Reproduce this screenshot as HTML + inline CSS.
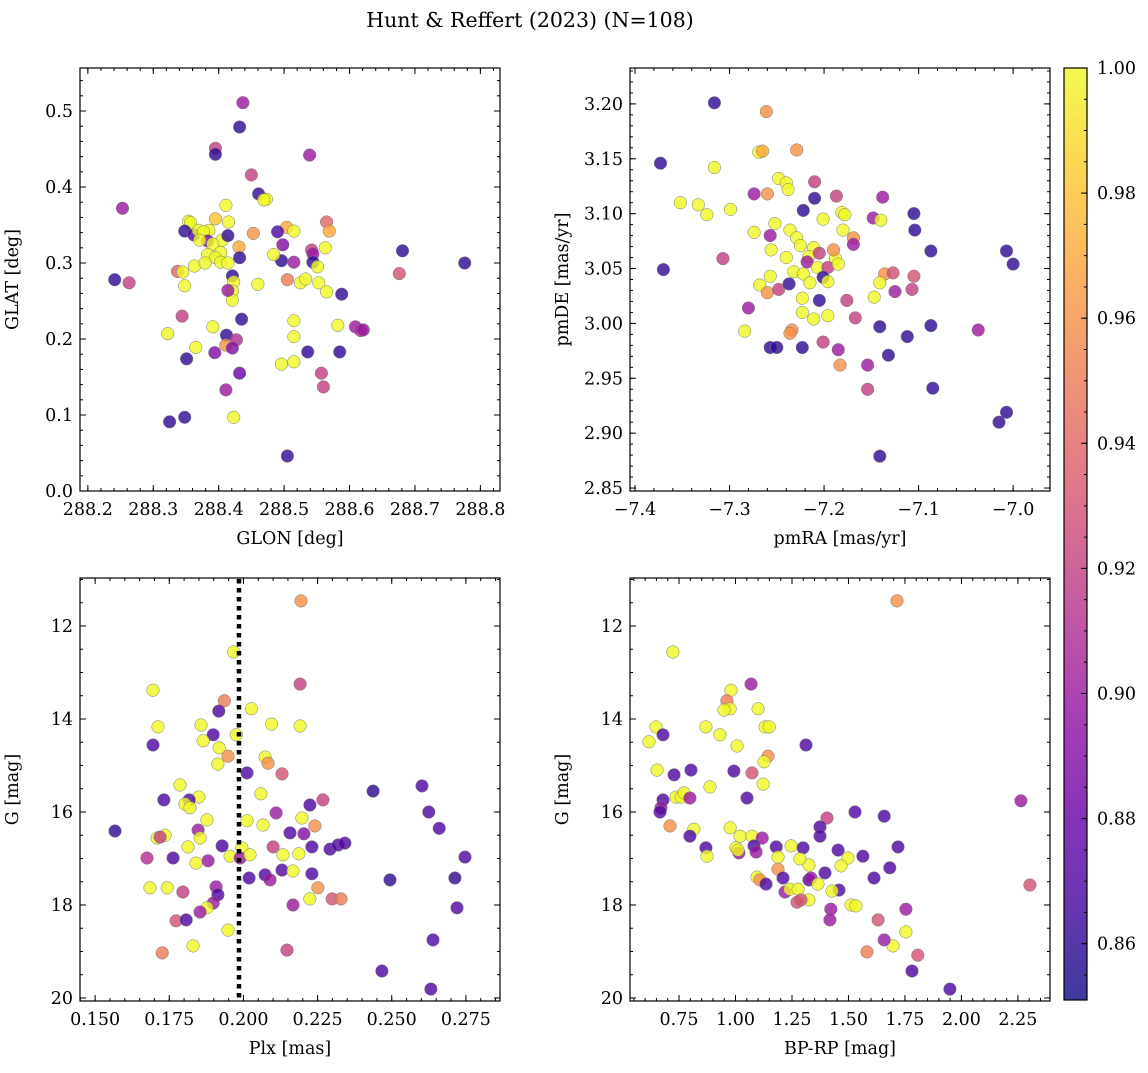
<!DOCTYPE html>
<html><head><meta charset="utf-8"><style>
body{margin:0;background:#fff}
svg text{font-family:"DejaVu Serif","Liberation Serif",serif;fill:#000}
</style></head><body>
<svg id="fig" width="1148" height="1068" viewBox="0 0 1148 1068" xmlns="http://www.w3.org/2000/svg">
<text x="530" y="27" font-size="20.5" text-anchor="middle">Hunt &amp; Reffert (2023) (N=108)</text>
</svg>
<script>
const glonP1=[288.437,288.395,288.432,288.395,288.539,288.450,288.461,288.473,288.469,288.253,288.411,288.354,288.357,288.395,288.415,288.504,288.565,288.515,288.385,288.348,288.362,288.369,288.377,288.383,288.405,288.414,288.431,288.453,288.569,288.371,288.391,288.403,288.432,288.490,288.498,288.542,288.544,288.544,288.563,288.681,288.383,288.395,288.496,288.515,288.484,288.363,288.379,288.403,288.414,288.241,288.263,288.337,288.345,288.348,288.421,288.423,288.460,288.505,288.525,288.533,288.551,288.553,288.565,288.588,288.676,288.776,288.421,288.421,288.414,288.344,288.435,288.515,288.412,288.391,288.427,288.322,288.411,288.421,288.582,288.609,288.617,288.621,288.515,288.536,288.394,288.351,288.365,288.496,288.515,288.585,288.557,288.560,288.411,288.432,288.423,288.325,288.348,288.505];
const glatP1=[.511,.451,.479,.443,.442,.416,.391,.384,.383,.372,.376,.355,.353,.358,.354,.347,.354,.342,.343,.342,.337,.343,.341,.329,.330,.336,.321,.339,.342,.330,.325,.314,.307,.341,.324,.317,.312,.301,.320,.316,.311,.307,.303,.301,.311,.296,.300,.301,.300,.278,.274,.289,.288,.270,.283,.275,.272,.278,.274,.279,.295,.274,.262,.259,.286,.300,.263,.251,.264,.230,.226,.224,.205,.216,.199,.207,.192,.188,.218,.216,.211,.212,.203,.183,.182,.174,.189,.167,.170,.183,.155,.137,.133,.155,.097,.091,.097,.046];
const probP1=[.90,.92,.86,.86,.90,.92,.86,1,1,.90,1,1,1,.98,1,.97,.94,1,1,.86,.87,1,1,.89,1,.86,.97,.96,.97,1,1,1,.86,.87,.89,.92,.90,.86,1,.86,1,1,.86,.90,1,1,1,1,1,.86,.92,.94,1,1,.86,1,1,.95,1,1,1,1,1,.86,.93,.86,1,1,.90,.92,.86,1,.86,1,.91,1,.96,.89,1,.90,.91,.90,1,.86,.89,.86,1,1,1,.86,.92,.92,.90,.88,1,.86,.86,.86];

const pmraP2=[-7.316,-7.261,-7.373,-7.269,-7.265,-7.229,-7.316,-7.248,-7.240,-7.210,-7.238,-7.352,-7.333,-7.324,-7.299,-7.274,-7.260,-7.222,-7.210,-7.187,-7.138,-7.148,-7.140,-7.105,-7.181,-7.178,-7.201,-7.180,-7.252,-7.274,-7.257,-7.236,-7.229,-7.225,-7.211,-7.169,-7.169,-7.104,-7.087,-7.370,-7.307,-7.256,-7.240,-7.216,-7.188,-7.190,-7.205,-7.218,-7.207,-7.196,-7.185,-7.232,-7.222,-7.257,-7.201,-7.215,-7.268,-7.260,-7.248,-7.237,-7.196,-7.136,-7.127,-7.141,-7.125,-7.107,-7.105,-7.007,-7.000,-7.223,-7.205,-7.176,-7.147,-7.211,-7.196,-7.223,-7.280,-7.284,-7.234,-7.236,-7.257,-7.250,-7.223,-7.201,-7.167,-7.141,-7.112,-7.087,-7.037,-7.132,-7.185,-7.183,-7.154,-7.154,-7.085,-7.007,-7.015,-7.141];
const pmdeP2=[3.201,3.193,3.146,3.156,3.157,3.158,3.142,3.132,3.128,3.129,3.122,3.110,3.108,3.099,3.104,3.118,3.118,3.103,3.114,3.116,3.115,3.096,3.094,3.100,3.101,3.099,3.095,3.085,3.091,3.083,3.080,3.085,3.078,3.071,3.069,3.078,3.072,3.085,3.066,3.049,3.059,3.067,3.060,3.061,3.059,3.067,3.064,3.056,3.051,3.051,3.054,3.047,3.045,3.043,3.042,3.037,3.035,3.028,3.031,3.036,3.038,3.045,3.046,3.037,3.029,3.031,3.043,3.066,3.054,3.023,3.021,3.021,3.024,3.004,3.007,3.010,3.014,2.993,2.994,2.991,2.978,2.978,2.978,2.983,3.005,2.997,2.988,2.998,2.994,2.971,2.976,2.962,2.962,2.940,2.941,2.919,2.910,2.879];
const probP2=[.86,.96,.86,1,.97,.96,1,1,1,.92,1,1,1,1,1,.90,.96,.86,.86,.92,.90,.90,1,.86,1,1,1,1,1,1,.90,1,1,1,1,.96,.90,.86,.86,.86,.92,1,1,1,1,.96,.92,.90,1,.92,1,1,1,1,.86,1,1,.96,.92,.86,1,.96,.93,1,.90,.92,.93,.86,.86,1,.86,.92,1,1,1,1,.90,1,.96,.96,.86,.86,.86,.92,.92,.86,.86,.86,.90,.86,.90,.96,.90,.92,.86,.86,.86,.86];

const plxP3=[.2194,.1967,.1695,.2191,.1936,.2027,.1917,.1712,.1695,.1857,.2095,.2191,.1976,.1898,.1864,.1918,.1948,.2073,.2083,.1914,.2012,.2130,.2437,.2059,.1850,.1786,.1732,.1817,.1803,.1820,.2110,.2268,.2224,.2602,.2625,.2066,.2241,.2197,.2204,.1877,.2012,.1567,.1709,.1736,.1719,.1847,.1854,.2100,.2157,.2292,.2231,.2319,.2342,.1813,.1928,.1995,.1955,.1989,.2022,.1763,.1675,.1840,.1881,.2133,.2187,.2073,.2090,.2130,.2167,.2019,.2231,.2251,.2494,.2713,.1743,.1685,.1908,.1796,.1914,.2224,.2299,.2329,.1898,.1877,.1854,.2167,.1773,.1807,.1948,.1830,.2147,.2639,.2720,.1726,.2467,.2632,.2747,.2660];
const gP3=[11.46,12.56,13.38,13.25,13.61,13.78,13.83,14.17,14.56,14.13,14.11,14.15,14.34,14.34,14.47,14.62,14.80,14.82,14.95,14.97,15.16,15.18,15.55,15.61,15.68,15.42,15.74,15.74,15.83,15.91,16.02,15.74,15.85,15.44,16.00,16.28,16.30,16.13,16.47,16.17,16.19,16.41,16.56,16.50,16.54,16.39,16.56,16.75,16.45,16.80,16.75,16.71,16.67,16.75,16.73,16.77,16.95,16.99,16.92,16.99,16.99,17.10,17.05,16.92,16.90,17.35,17.46,17.25,17.27,17.42,17.33,17.63,17.46,17.42,17.63,17.63,17.61,17.72,17.78,17.87,17.87,17.87,17.96,18.06,18.15,18.00,18.34,18.32,18.54,18.88,18.97,18.75,18.06,19.03,19.42,19.81,16.97,16.35];
const probP3=[.96,1,1,.92,.95,1,.87,1,.87,1,1,1,1,.87,1,1,.96,1,.96,1,.87,.93,.86,1,1,1,.87,.87,1,1,.90,.92,.87,.87,.87,1,.96,1,.89,1,1,.86,1,1,.92,.90,1,.92,.87,.87,.87,.87,.87,1,.87,1,1,.90,1,.87,.91,1,.90,1,1,.87,.90,.87,1,.87,.87,.96,.86,.86,1,1,.90,.92,.87,1,.93,.95,.90,1,.90,.90,.93,.87,1,1,.92,.87,.87,.95,.87,.87,.87,.87];
const plxRef=[0.1985];

const bprpP4=[1.715,.723,.980,1.069,.962,.976,.617,.648,.679,.869,.949,.931,1.007,1.100,1.131,1.149,1.312,1.144,1.126,.653,.728,.803,.993,1.073,1.122,.887,.679,.737,.759,.772,.798,.670,.666,1.051,1.405,1.529,1.658,.710,.816,.798,.976,1.020,1.073,1.118,1.374,1.374,1.002,.869,1.015,.874,1.011,1.082,1.091,1.180,1.246,1.299,1.454,1.498,1.564,1.719,1.396,1.467,1.325,1.285,1.188,1.188,1.095,1.108,1.135,1.210,1.325,1.334,1.219,1.241,1.277,1.365,1.458,1.427,1.325,1.272,1.290,1.511,1.533,1.422,1.418,1.754,1.683,1.613,1.631,1.754,1.697,1.658,1.582,1.807,1.781,1.949,2.303,2.263];
const gP4=[11.46,12.56,13.38,13.25,13.61,13.78,14.49,14.17,14.34,14.17,13.81,14.34,14.58,13.78,14.17,14.17,14.56,14.80,14.92,15.10,15.20,15.10,15.12,15.16,15.40,15.46,15.74,15.68,15.68,15.59,15.70,15.91,16.00,15.70,16.13,16.00,16.09,16.30,16.37,16.52,16.34,16.52,16.52,16.56,16.32,16.52,16.77,16.77,16.88,16.95,16.82,16.73,16.86,16.75,16.73,16.77,16.82,16.99,16.95,16.75,17.31,17.16,17.14,17.01,16.97,17.23,17.40,17.46,17.55,17.42,17.46,17.42,17.72,17.66,17.66,17.55,17.68,17.70,17.89,17.94,17.89,18.00,18.02,18.09,18.32,18.09,17.20,17.42,18.32,18.58,18.88,18.75,19.01,19.08,19.42,19.81,17.57,15.76];
const probP4=[.96,1,1,.90,.95,1,1,1,.87,1,1,1,1,1,1,1,.87,.96,1,1,.87,.87,.87,.93,1,1,.87,1,1,1,.90,.90,.87,.87,.92,.87,.87,.96,1,.87,1,1,1,.90,.87,.87,1,.87,.90,1,1,.87,.90,.87,1,.87,.87,1,.87,.87,.87,1,1,1,1,.96,1,.96,.87,.87,.87,.90,.90,1,1,1,.87,1,1,.93,.93,1,1,.90,.90,.90,.87,.87,.93,1,1,.90,.95,.93,.87,.87,.93,.90];

const ticksP1x=["288.2","288.3","288.4","288.5","288.6","288.7","288.8"];
const ticksP1y=["0.0","0.1","0.2","0.3","0.4","0.5"];
const ticksP2x=["-7.4","-7.3","-7.2","-7.1","-7.0"];
const ticksP2y=["2.85","2.90","2.95","3.00","3.05","3.10","3.15","3.20"];
const ticksP3x=["0.150","0.175","0.200","0.225","0.250","0.275"];
const ticksG=["12","14","16","18","20"];
const ticksP4x=["0.75","1.00","1.25","1.50","1.75","2.00","2.25"];
const ticksCbar=["0.86","0.88","0.90","0.92","0.94","0.96","0.98","1.00"];

const NS="http://www.w3.org/2000/svg";
const svg=document.getElementById('fig');
function mk(tag,attrs,parent){const e=document.createElementNS(NS,tag);for(const k in attrs)e.setAttribute(k,attrs[k]);(parent||svg).appendChild(e);return e;}
const stops=[[13,8,135],[65,4,157],[106,0,168],[143,13,164],[177,42,144],[204,71,120],[225,100,98],[242,132,75],[252,166,54],[252,206,37],[240,249,33]];
const VMIN=0.851,VMAX=1.0;
const FS=17.5;
function plasma(t){t=Math.max(0,Math.min(1,t))*10;const i=Math.min(9,Math.floor(t)),f=t-i;const a=stops[i],b=stops[i+1];return `rgb(${Math.round(a[0]+(b[0]-a[0])*f)},${Math.round(a[1]+(b[1]-a[1])*f)},${Math.round(a[2]+(b[2]-a[2])*f)})`;}
function lin(d0,d1,r0,r1){return v=>r0+(v-d0)/(d1-d0)*(r1-r0);}
function fmt(s){return s.replace('-','\u2212');}

function panel(name,box,xTicks,yTicks,xMinor,yMinor,xLabel,yLabel,xd,yd,px,py,pp){
  const g=mk('g',{});
  
  
  const X=lin(xd[0],xd[1],box[0],box[2]), Y=lin(yd[0],yd[1],box[3],box[1]);
  const clip=mk('clipPath',{id:name+'-clip'},g);mk('rect',{x:box[0],y:box[1],width:box[2]-box[0],height:box[3]-box[1]},clip);
  const pts=mk('g',{'clip-path':`url(#${name}-clip)`},g);
  for(let i=0;i<Math.min(px.length,py.length,pp.length);i++){
    const c=mk('circle',{cx:X(px[i]).toFixed(1),cy:Y(py[i]).toFixed(1),r:6.3,fill:plasma((pp[i]-VMIN)/(VMAX-VMIN)),'fill-opacity':0.8,stroke:'#777','stroke-width':0.5},pts);
    
    
  }
  const tg=mk('g',{stroke:'#000','stroke-width':1},g);
  const lo=Math.min(xd[0],xd[1]),hi=Math.max(xd[0],xd[1]);
  for(let v=Math.ceil(lo/xMinor-1e-6)*xMinor;v<=hi+1e-9;v+=xMinor){const x=X(v);mk('line',{x1:x,x2:x,y1:box[3],y2:box[3]-3},tg);mk('line',{x1:x,x2:x,y1:box[1],y2:box[1]+3},tg);}
  const ylo=Math.min(yd[0],yd[1]),yhi=Math.max(yd[0],yd[1]);
  for(let v=Math.ceil(ylo/yMinor-1e-6)*yMinor;v<=yhi+1e-9;v+=yMinor){const y=Y(v);mk('line',{y1:y,y2:y,x1:box[0],x2:box[0]+3},tg);mk('line',{y1:y,y2:y,x1:box[2],x2:box[2]-3},tg);}
  xTicks.forEach(s=>{const v=parseFloat(s),x=X(v);mk('line',{x1:x,x2:x,y1:box[3],y2:box[3]-6},tg);mk('line',{x1:x,x2:x,y1:box[1],y2:box[1]+6},tg);
    const t=mk('text',{x:x,y:box[3]+24,'font-size':FS,'text-anchor':'middle'},g);t.textContent=fmt(s);
    });
  yTicks.forEach(s=>{const v=parseFloat(s),y=Y(v);mk('line',{y1:y,y2:y,x1:box[0],x2:box[0]+6},tg);mk('line',{y1:y,y2:y,x1:box[2],x2:box[2]-6},tg);
    const t=mk('text',{x:box[0]-7,y:y+6,'font-size':FS,'text-anchor':'end'},g);t.textContent=fmt(s);
    });
  mk('rect',{x:box[0],y:box[1],width:box[2]-box[0],height:box[3]-box[1],fill:'none',stroke:'#000','stroke-width':1.2},g);
  const xl=mk('text',{x:(box[0]+box[2])/2,y:box[3]+53,'font-size':FS,'text-anchor':'middle'},g);xl.textContent=xLabel;
  
  const yx=box[0]-62;const yc=(box[1]+box[3])/2;
  const yl=mk('text',{x:yx,y:yc,'font-size':FS,'text-anchor':'middle',transform:`rotate(-90 ${yx} ${yc})`},g);yl.textContent=yLabel;
  
  return {X,Y,g};
}
panel('glon-glat-panel',[80,68,500,491],ticksP1x,ticksP1y,0.02,0.02,'GLON [deg]','GLAT [deg]',[288.188,288.830],[0,0.5566],glonP1,glatP1,probP1);
panel('pm-panel',[630,68,1050,491],ticksP2x,ticksP2y,0.02,0.01,'pmRA [mas/yr]','pmDE [mas/yr]',[-7.4053,-6.961],[2.8473,3.2327],pmraP2,pmdeP2,probP2);
const p3=panel('plx-g-panel',[80,578,500,1001],ticksP3x,ticksG,0.005,0.5,'Plx [mas]','G [mag]',[0.1449,0.2865],[20.065,10.968],plxP3,gP3,probP3);
plxRef.forEach(v=>{const x=p3.X(v);const l=mk('line',{x1:x,x2:x,y1:579,y2:1000,stroke:'#000','stroke-width':4.5,'stroke-dasharray':'4.5 4.5'},p3.g);
  });
panel('cmd-panel',[630,578,1050,1001],ticksP4x,ticksG,0.05,0.5,'BP-RP [mag]','G [mag]',[0.533,2.392],[20.065,10.968],bprpP4,gP4,probP4);

const defs=mk('defs',{});const lg=mk('linearGradient',{id:'cb',x1:0,y1:1,x2:0,y2:0},defs);
for(let i=0;i<=20;i++){mk('stop',{offset:i/20,'stop-color':plasma(i/20)},lg);}
const cbg=mk('g',{});


const cb=[1064,68,1087,1000];
mk('rect',{x:cb[0],y:cb[1],width:cb[2]-cb[0],height:cb[3]-cb[1],fill:'url(#cb)','fill-opacity':0.8},cbg);
const CY=lin(VMIN,VMAX,cb[3],cb[1]);
for(let v=0.855;v<=1.0001;v+=0.005){const y=CY(v);mk('line',{x1:cb[2],x2:cb[2]-3,y1:y,y2:y,stroke:'#000'},cbg);}
ticksCbar.forEach(s=>{const y=CY(parseFloat(s));mk('line',{x1:cb[2],x2:cb[2]-6,y1:y,y2:y,stroke:'#000'},cbg);
  const t=mk('text',{x:cb[2]+10,y:y+6,'font-size':FS},cbg);t.textContent=s;
  });
mk('rect',{x:cb[0],y:cb[1],width:cb[2]-cb[0],height:cb[3]-cb[1],fill:'none',stroke:'#000','stroke-width':1.2},cbg);
</script>
</body></html>
